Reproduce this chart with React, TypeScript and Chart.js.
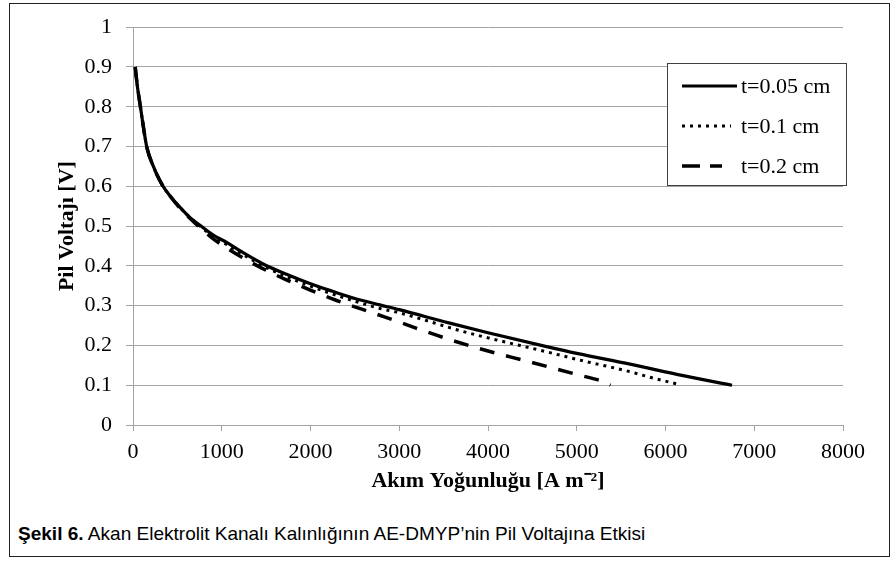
import React, { useEffect, useRef } from "react";
import { Chart, registerables } from "chart.js";

Chart.register(...registerables);

const seriesLabels = ["t=0.05 cm", "t=0.1 cm", "t=0.2 cm"];

const solidX = [25, 50, 79, 110, 154, 220, 323, 420, 530, 640, 755, 900, 1055, 1250, 1500, 1750, 2000, 2250, 2500, 2780, 3000, 3570, 4000, 4660, 5000, 5600, 6200, 6750];
const solidY = [0.9, 0.85, 0.807, 0.76, 0.7, 0.655, 0.606, 0.575, 0.547, 0.522, 0.502, 0.478, 0.459, 0.432, 0.401, 0.377, 0.355, 0.336, 0.318, 0.302, 0.29, 0.256, 0.232, 0.197, 0.18, 0.153, 0.124, 0.1];

const dottedX = [25, 50, 79, 110, 154, 220, 323, 420, 530, 640, 755, 900, 1055, 1250, 1500, 1750, 2000, 2250, 2500, 2780, 3000, 3720, 4000, 4660, 5000, 5600, 5825, 6170];
const dottedY = [0.9, 0.85, 0.807, 0.76, 0.7, 0.655, 0.606, 0.575, 0.547, 0.522, 0.5, 0.474, 0.454, 0.427, 0.396, 0.371, 0.349, 0.329, 0.311, 0.293, 0.282, 0.235, 0.219, 0.184, 0.165, 0.134, 0.12, 0.101];

const dashedX = [25, 50, 79, 110, 154, 220, 323, 420, 530, 650, 755, 904, 1165, 1446, 1728, 2011, 2294, 2594, 2857, 3196, 3496, 3797, 4098, 4395, 4699, 4999, 5296, 5380];
const dashedY = [0.9, 0.85, 0.807, 0.76, 0.7, 0.655, 0.606, 0.575, 0.545, 0.518, 0.496, 0.468, 0.43, 0.395, 0.365, 0.338, 0.313, 0.29, 0.27, 0.243, 0.22, 0.199, 0.18, 0.163, 0.145, 0.127, 0.109, 0.1];

const yTickLabels = ["0", "0.1", "0.2", "0.3", "0.4", "0.5", "0.6", "0.7", "0.8", "0.9", "1"];
const xTickLabels = ["0", "1000", "2000", "3000", "4000", "5000", "6000", "7000", "8000"];

const xTitle = "Akım Yoğunluğu [A m⁻²]";
const yTitle = "Pil Voltajı [V]";
const captionBold = "Şekil 6.";
const captionText = " Akan Elektrolit Kanalı Kalınlığının AE-DMYP’nin Pil Voltajına Etkisi";

const SERIF = '"Liberation Serif", "Times New Roman", serif';
const GRID = "#a3a3a3";

const toPoints = (xs: number[], ys: number[]) => xs.map((x, i) => ({ x, y: ys[i] }));

const legendDash = [[], [3, 5], [18, 10]];
const legendEnd = [737, 731, 722];

const boxLegend = {
  id: "boxLegend",
  afterDraw(chart: any) {
    const ctx = chart.ctx;
    ctx.save();
    ctx.fillStyle = "#ffffff";
    ctx.fillRect(667.5, 63.5, 179, 122);
    ctx.strokeStyle = "#404040";
    ctx.lineWidth = 1;
    ctx.setLineDash([]);
    ctx.strokeRect(667.5, 63.5, 179, 122);
    chart.data.datasets.forEach((ds: any, i: number) => {
      const y = 86 + i * 40;
      ctx.beginPath();
      ctx.setLineDash(legendDash[i]);
      ctx.lineWidth = ds.borderWidth;
      ctx.strokeStyle = ds.borderColor;
      ctx.lineCap = "butt";
      ctx.moveTo(682, y);
      ctx.lineTo(legendEnd[i], y);
      ctx.stroke();
      ctx.setLineDash([]);
      ctx.fillStyle = "#000";
      ctx.font = "22px " + SERIF;
      ctx.textBaseline = "middle";
      ctx.textAlign = "left";
      ctx.fillText(ds.label, 741, y + 1);
    });
    ctx.restore();
  },
};

export default function App() {
  const canvasRef = useRef<HTMLCanvasElement | null>(null);
  const captionRef = useRef<HTMLDivElement | null>(null);

  useEffect(() => {
    const cap = captionRef.current;
    if (cap) {
      const w = cap.scrollWidth;
      if (w > 0) {
        cap.style.transform = `scaleX(${627 / w})`;
      }
    }
  }, []);

  useEffect(() => {
    if (!canvasRef.current) return;
    const chart = new Chart(canvasRef.current, {
      type: "scatter",
      data: {
        datasets: [
          {
            label: seriesLabels[0],
            data: toPoints(solidX, solidY),
            showLine: true,
            borderColor: "#000",
            borderWidth: 3.2,
            pointRadius: 0,
            cubicInterpolationMode: "monotone",
          },
          {
            label: seriesLabels[1],
            data: toPoints(dottedX, dottedY),
            showLine: true,
            borderColor: "#000",
            borderWidth: 3,
            borderDash: [3, 5],
            pointRadius: 0,
            cubicInterpolationMode: "monotone",
          },
          {
            label: seriesLabels[2],
            data: toPoints(dashedX, dashedY),
            showLine: true,
            borderColor: "#000",
            borderWidth: 3.5,
            borderDash: [15, 12],
            pointRadius: 0,
            cubicInterpolationMode: "monotone",
          },
        ],
      },
      options: {
        animation: false,
        responsive: false,
        maintainAspectRatio: false,
        layout: { padding: { left: 0, right: 47, top: 26, bottom: 0 } },
        plugins: {
          legend: { display: false },
          tooltip: { enabled: false },
        },
        scales: {
          x: {
            type: "linear",
            min: 0,
            max: 8000,
            afterFit: (s: any) => {
              s.height = 75;
            },
            ticks: {
              stepSize: 1000,
              color: "#000",
              padding: 8,
              maxRotation: 0,
              font: { family: SERIF, size: 22 },
              callback: (_v: any, i: number) => xTickLabels[i],
            },
            grid: {
              drawOnChartArea: false,
              drawTicks: true,
              tickLength: 6,
              color: GRID,
            },
            border: { display: true, color: GRID },
            title: {
              display: true,
              text: xTitle,
              color: "#000",
              padding: { top: 0, bottom: 5 },
              font: { family: SERIF, size: 22, weight: "bold" },
            },
          },
          y: {
            type: "linear",
            min: 0,
            max: 1,
            afterFit: (s: any) => {
              s.width = 133;
            },
            ticks: {
              stepSize: 0.1,
              color: "#000",
              padding: 14,
              font: { family: SERIF, size: 22 },
              callback: (_v: any, i: number) => yTickLabels[i],
            },
            grid: {
              drawOnChartArea: true,
              drawTicks: true,
              tickLength: 7,
              color: GRID,
            },
            border: { display: true, color: GRID },
            title: {
              display: true,
              text: yTitle,
              color: "#000",
              padding: { top: 54, bottom: 0 },
              font: { family: SERIF, size: 22, weight: "bold" },
            },
          },
        },
      },
      plugins: [boxLegend],
    } as any);
    return () => chart.destroy();
  }, []);

  return (
    <div style={{ position: "absolute", left: 0, top: 0, width: 890, height: 563, background: "#fff" }}>
      <div
        style={{
          position: "absolute",
          left: 9,
          top: 3,
          width: 881,
          height: 554,
          border: "1px solid #222",
          boxSizing: "border-box",
        }}
      />
      <canvas
        ref={canvasRef}
        width={890}
        height={500}
        style={{ position: "absolute", left: 0, top: 0, width: 890, height: 500 }}
      />
      <div
        ref={captionRef}
        style={{
          position: "absolute",
          left: 18,
          top: 523,
          fontFamily: '"Liberation Sans Narrow", "Arial Narrow", "Liberation Sans", Arial, sans-serif',
          fontSize: 19,
          lineHeight: "22px",
          color: "#000",
          whiteSpace: "nowrap",
          display: "inline-block",
          transformOrigin: "0 50%",
        }}
      >
        <b>{captionBold}</b>
        {captionText}
      </div>
    </div>
  );
}
